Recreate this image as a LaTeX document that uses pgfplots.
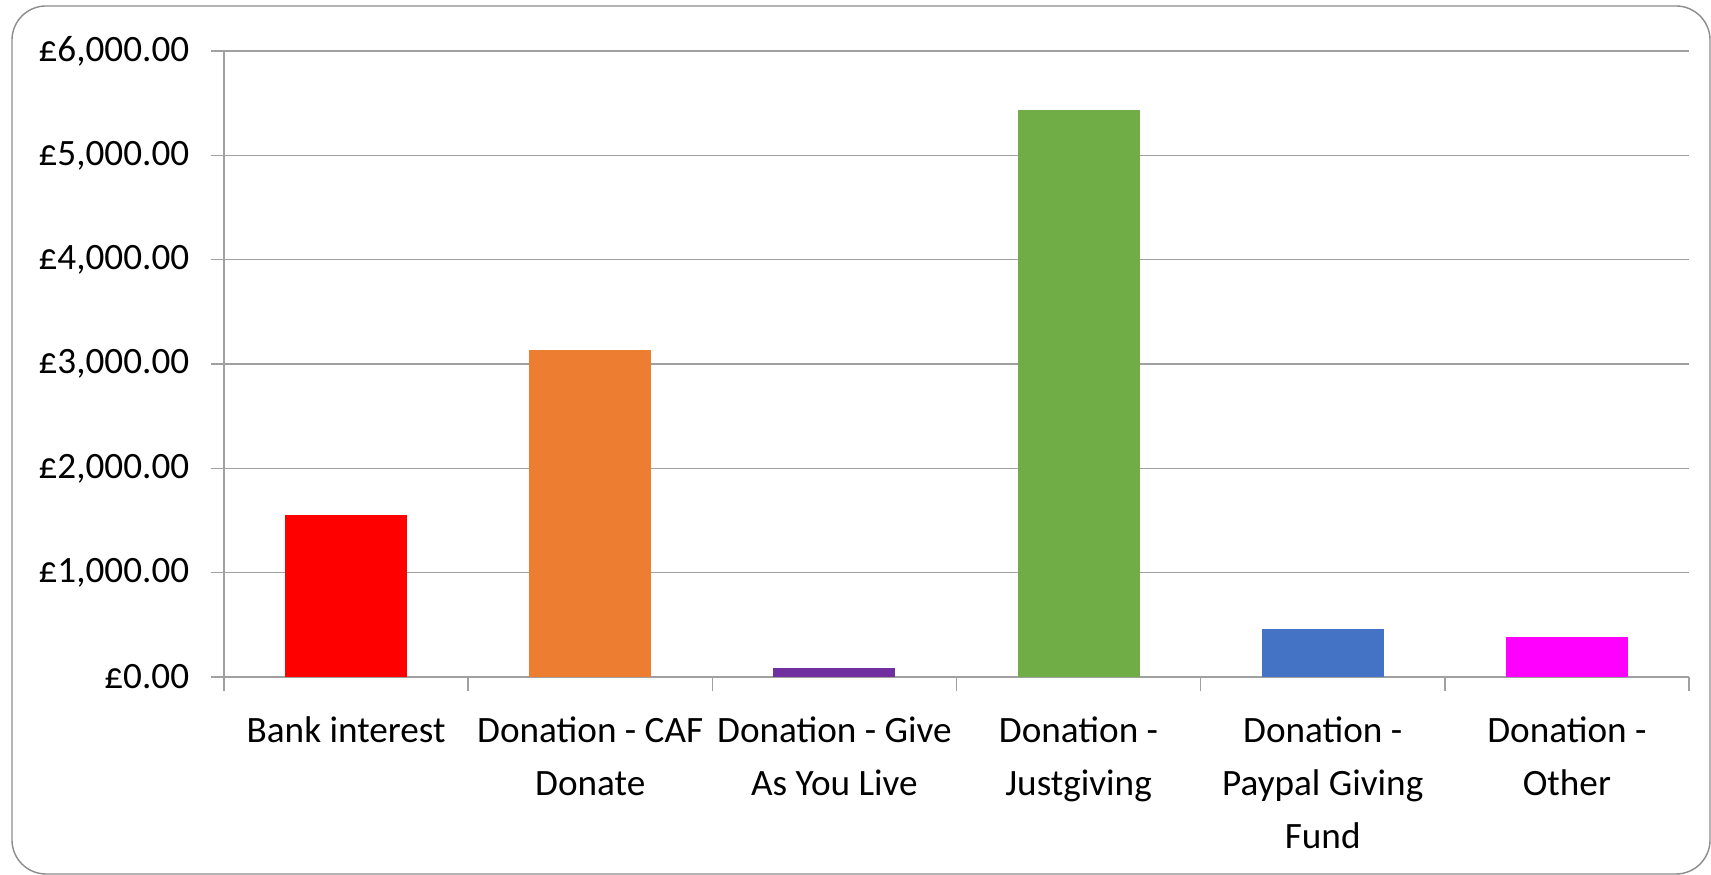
\documentclass[border=0pt]{standalone}
\usepackage{fontspec}
\setmainfont{Carlito}
\usepackage{pgfplots}
\pgfplotsset{compat=1.18}

\definecolor{gridgray}{RGB}{160,160,160}
\definecolor{framegray}{RGB}{140,140,140}
\definecolor{cRed}{RGB}{255,0,0}
\definecolor{cOrange}{RGB}{237,125,49}
\definecolor{cPurple}{RGB}{112,48,160}
\definecolor{cGreen}{RGB}{112,173,71}
\definecolor{cBlue}{RGB}{68,114,196}
\definecolor{cMagenta}{RGB}{255,0,255}

\begin{document}
\begin{tikzpicture}
  \useasboundingbox (-56pt,-49.5pt) rectangle (371.75pt,169.25pt);
  \draw[framegray, line width=0.35pt, rounded corners=8.5pt]
    (-53pt,-49.25pt) rectangle (371.5pt,167.75pt);
  \begin{axis}[
    at={(0,0)}, anchor=south west,
    scale only axis,
    width=366.25pt, height=156.5pt,
    ybar, bar width=30.5pt,
    xmin=-0.5, xmax=5.5,
    ymin=0, ymax=6000,
    axis lines*=left,
    axis line style={gridgray, line width=0.4pt},
    ytick={0,1000,2000,3000,4000,5000,6000},
    yticklabels={{£0.00},{£1,000.00},{£2,000.00},{£3,000.00},{£4,000.00},{£5,000.00},{£6,000.00}},
    xtick={0,1,2,3,4,5},
    xticklabels={Bank interest, Donation - CAF\\Donate, Donation - Give\\As You Live,
      Donation -\\Justgiving, Donation -\\Paypal Giving\\Fund, Donation -\\Other},
    minor xtick={-0.5,0.5,1.5,2.5,3.5,4.5,5.5},
    minor tick length=3.5pt,
    major x tick style={draw=none},
    minor x tick style={draw=gridgray, line width=0.4pt},
    tick align=outside,
    major tick length=3.25pt,
    tick style={gridgray, line width=0.4pt},
    ymajorgrids=true,
    grid style={gridgray, line width=0.4pt},
    tick label style={font=\fontsize{9.3}{13.3}\selectfont},
    xticklabel style={align=center, anchor=north, inner sep=0pt, yshift=-6.5pt},
    yticklabel style={anchor=east, inner sep=0pt, xshift=-5.25pt},
  ]
    \addplot[fill=cRed, draw=none, bar shift=0pt] coordinates {(0,1550)};
    \addplot[fill=cOrange, draw=none, bar shift=0pt] coordinates {(1,3135)};
    \addplot[fill=cPurple, draw=none, bar shift=0pt] coordinates {(2,85)};
    \addplot[fill=cGreen, draw=none, bar shift=0pt] coordinates {(3,5430)};
    \addplot[fill=cBlue, draw=none, bar shift=0pt] coordinates {(4,460)};
    \addplot[fill=cMagenta, draw=none, bar shift=0pt] coordinates {(5,385)};
  \end{axis}
\end{tikzpicture}
\end{document}
